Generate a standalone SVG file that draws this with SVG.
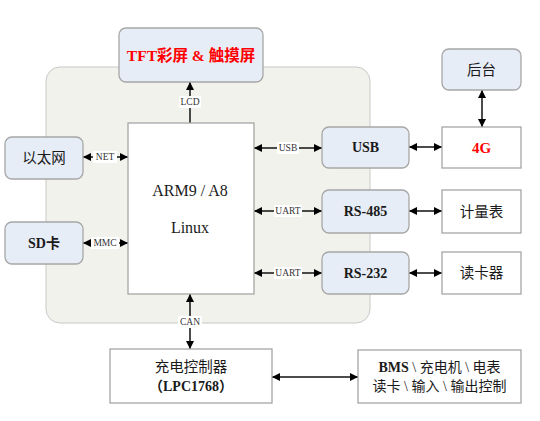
<svg xmlns="http://www.w3.org/2000/svg" width="540" height="421" viewBox="0 0 540 421">
<defs>
<marker id="ah" viewBox="0 0 10 10" refX="10" refY="5" markerWidth="9" markerHeight="8" markerUnits="userSpaceOnUse" orient="auto-start-reverse">
<path d="M0,0 L10,5 L0,10 z" fill="#000"/>
</marker>
<style>
.blue{fill:#E7EDF7;stroke:#A6A6A6;stroke-width:1.3}
.white{fill:#FFFFFF;stroke:#A6A6A6;stroke-width:1.3}
.t{font-family:"Liberation Serif","Noto Sans CJK SC",serif;fill:#1a1a1a;text-anchor:middle;dominant-baseline:central}
.b{font-weight:bold}
.red{fill:#FF0000}
.lbl{font-family:"Liberation Serif",serif;font-size:9.5px;fill:#333;text-anchor:middle;dominant-baseline:central}
.lb{fill:#FFFFFF}
.c{stroke:#111;stroke-width:1.5;fill:none;marker-start:url(#ah);marker-end:url(#ah)}
.c1{stroke:#111;stroke-width:1.5;fill:none;marker-end:url(#ah)}
</style>
</defs>
<rect width="540" height="421" fill="#FFFFFF"/>
<rect id="panel" x="46" y="67" width="324" height="256" rx="14" fill="#F2F2EC" stroke="#C8C8C8" stroke-width="1"/>

<g id="connectors">
<line class="c1" x1="190" y1="123" x2="190" y2="82" stroke="#555"/>
<line class="c" x1="83" y1="157" x2="128" y2="157"/>
<line class="c" x1="83" y1="243" x2="128" y2="243"/>
<line class="c" x1="190" y1="294" x2="190" y2="349"/>
<line class="c" x1="254" y1="148" x2="322" y2="148"/>
<line class="c" x1="254" y1="211" x2="322" y2="211"/>
<line class="c" x1="254" y1="273" x2="322" y2="273"/>
<line class="c" x1="409" y1="147" x2="442" y2="147"/>
<line class="c" x1="409" y1="211" x2="442" y2="211"/>
<line class="c" x1="409" y1="273" x2="442" y2="273"/>
<line class="c" x1="482" y1="90" x2="482" y2="127"/>
<line class="c" x1="272" y1="377" x2="358" y2="377"/>
<rect class="lb" x="179" y="96" width="22" height="12" fill="#F2F2EC"/>
<text class="lbl" x="190" y="102">LCD</text>
<rect class="lb" x="93" y="151" width="24" height="12"/>
<text class="lbl" x="105" y="157">NET</text>
<rect class="lb" x="91" y="237" width="28" height="12"/>
<text class="lbl" x="105" y="243">MMC</text>
<rect class="lb" x="178" y="316" width="24" height="12"/>
<text class="lbl" x="190" y="322">CAN</text>
<rect class="lb" x="277" y="142" width="22" height="12" fill="#F2F2EC"/>
<text class="lbl" x="288" y="148">USB</text>
<rect class="lb" x="274" y="205" width="28" height="12" fill="#F2F2EC"/>
<text class="lbl" x="288" y="211">UART</text>
<rect class="lb" x="274" y="267" width="28" height="12" fill="#F2F2EC"/>
<text class="lbl" x="288" y="273">UART</text>
</g>

<g id="tft"><rect class="blue" x="119" y="28" width="144" height="54" rx="7"/>
<text class="t b red" x="191" y="55" font-size="15.5">TFT彩屏 &amp; 触摸屏</text></g>
<g id="arm"><rect class="white" x="128" y="123" width="126" height="171"/>
<text class="t" x="190" y="190" font-size="16">ARM9 / A8</text>
<text class="t" x="190" y="227" font-size="16">Linux</text></g>
<g id="ethernet"><rect class="blue" x="5" y="137" width="78" height="42" rx="7"/>
<text class="t" x="44" y="158" font-size="14.5">以太网</text></g>
<g id="sd"><rect class="blue" x="5" y="222" width="78" height="42" rx="7"/>
<text class="t b" x="44" y="243" font-size="14">SD卡</text></g>
<g id="usb"><rect class="blue" x="322" y="127" width="87" height="41" rx="7"/>
<text class="t b" x="365.5" y="147.5" font-size="14">USB</text></g>
<g id="rs485"><rect class="blue" x="322" y="190" width="87" height="43" rx="7"/>
<text class="t b" x="365.5" y="211.5" font-size="14">RS-485</text></g>
<g id="rs232"><rect class="blue" x="322" y="252" width="87" height="42" rx="7"/>
<text class="t b" x="365.5" y="273" font-size="14">RS-232</text></g>
<g id="houtai"><rect class="blue" x="442" y="49" width="79" height="41" rx="7"/>
<text class="t" x="481.5" y="69.5" font-size="14.5">后台</text></g>
<g id="g4"><rect class="white" x="442" y="127" width="79" height="41"/>
<text class="t b red" x="481.5" y="147.5" font-size="15">4G</text></g>
<g id="meter"><rect class="white" x="442" y="190" width="79" height="43"/>
<text class="t" x="481.5" y="211.5" font-size="14.5">计量表</text></g>
<g id="cardreader"><rect class="white" x="442" y="252" width="79" height="42"/>
<text class="t" x="481.5" y="273" font-size="14.5">读卡器</text></g>
<g id="charger"><rect class="white" x="110" y="349" width="162" height="54"/>
<text class="t" x="191" y="367" font-size="14.5">充电控制器</text>
<text class="t b" x="191" y="386" font-size="14">（LPC1768）</text></g>
<g id="bms"><rect class="white" x="358" y="350" width="163" height="53"/>
<text class="t" x="439.5" y="367" font-size="14"><tspan font-weight="bold">BMS</tspan> \ 充电机 \ 电表</text>
<text class="t" x="439.5" y="386" font-size="14">读卡 \ 输入 \ 输出控制</text></g>
</svg>
